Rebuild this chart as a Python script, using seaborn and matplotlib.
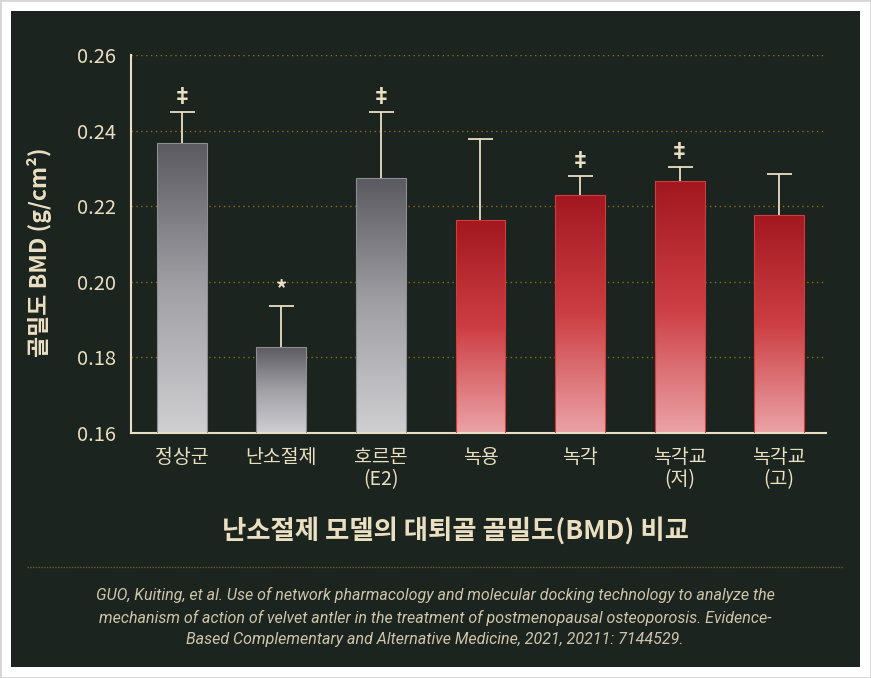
import numpy as np
import pandas as pd
import seaborn as sns
import matplotlib.pyplot as plt
from matplotlib.colors import LinearSegmentedColormap
from matplotlib.patches import Rectangle
from matplotlib.lines import Line2D

# data
groups = ['정상군', '난소절제', '호르몬\n(E2)', '녹용', '녹각', '녹각교\n(저)', '녹각교\n(고)']
bmd_mean = [0.2367, 0.1828, 0.2274, 0.2163, 0.2230, 0.2266, 0.2178]
bmd_err = [0.0082, 0.0109, 0.0175, 0.0216, 0.0050, 0.0038, 0.0106]
marks = ['‡', '*', '‡', '', '‡', '‡', '']
group_kind = ['ref', 'ref', 'ref', 'antler', 'antler', 'antler', 'antler']
y_ticks = [0.16, 0.18, 0.20, 0.22, 0.24, 0.26]

title = '난소절제 모델의 대퇴골 골밀도(BMD) 비교'
citation = ('GUO, Kuiting, et al. Use of network pharmacology and molecular docking technology to analyze the\n'
            'mechanism of action of velvet antler in the treatment of postmenopausal osteoporosis. Evidence-\n'
            'Based Complementary and Alternative Medicine, 2021, 20211: 7144529.')

df = pd.DataFrame({'group': groups, 'bmd': bmd_mean, 'kind': group_kind})

sns.set_theme(style='white')
plt.rcParams['font.family'] = ['Noto Sans CJK KR', 'DejaVu Sans']

cream = '#ebdfc2'
panel = '#1b241f'
grid_c = '#8f6c18'

fig = plt.figure(figsize=(8.71, 6.78), dpi=100, facecolor='white')
fig.patches.append(Rectangle((0, 0), 1, 1, transform=fig.transFigure,
                             facecolor='white', edgecolor='#d6d6d6', lw=2, zorder=-3))
fig.patches.append(Rectangle((11 / 871, 1 - 667 / 678), 849 / 871, 656 / 678,
                             transform=fig.transFigure, facecolor=panel,
                             edgecolor='none', zorder=-2))

ax = fig.add_axes([131 / 871, 1 - 433 / 678, 695 / 871, 378 / 678])
ax.set_facecolor('none')

sns.barplot(data=df, x='group', y='bmd', hue='kind', dodge=False, width=0.5,
            palette={'ref': '#8a8a90', 'antler': '#c42a30'}, legend=False, ax=ax)

gray_cmap = LinearSegmentedColormap.from_list('g', ['#cfcfd2', '#a0a0a5', '#5a5a60'])
red_cmap = LinearSegmentedColormap.from_list('r', ['#eba3a6', '#cc3e43', '#a3171f'])
grad = np.linspace(0, 1, 256).reshape(-1, 1)

for p in ax.patches:
    x0, w, top = p.get_x(), p.get_width(), p.get_y() + p.get_height()
    idx = int(round(x0 + w / 2))
    cmap = gray_cmap if group_kind[idx] == 'ref' else red_cmap
    edge = '#8d8d93' if group_kind[idx] == 'ref' else '#d63a3c'
    im = ax.imshow(grad, extent=[x0, x0 + w, y_ticks[0], top], origin='lower',
                   aspect='auto', cmap=cmap, zorder=2)
    im.set_clip_path(p)
    p.set_facecolor('none')
    p.set_edgecolor(edge)
    p.set_linewidth(0.8)
    p.set_zorder(3)

xs = np.arange(len(groups))
eb = ax.errorbar(xs, bmd_mean, yerr=[np.zeros(len(groups)), bmd_err], fmt='none',
                 ecolor=cream, elinewidth=1.3, capsize=9, capthick=1.3, zorder=1)
# keep only the upper caps
for cap in eb.lines[1]:
    if np.allclose(cap.get_ydata(), bmd_mean):
        cap.set_visible(False)

for i, m in enumerate(marks):
    if m:
        ax.annotate(m, xy=(i, bmd_mean[i] + bmd_err[i]), xytext=(0, 3),
                    textcoords='offset points', ha='center', va='bottom',
                    color=cream, fontsize=15 if m == '‡' else 16, fontweight='bold')

ax.set_xlim(-0.51, 6.47)
ax.set_ylim(0.16, 0.26)
ax.set_yticks(y_ticks)
ax.set_yticklabels([f'{v:.2f}' for v in y_ticks])
ax.set_xlabel('')
ax.set_ylabel('')
ax.tick_params(axis='both', length=0, colors=cream)
ax.tick_params(axis='x', pad=10, labelsize=14)
ax.tick_params(axis='y', pad=11, labelsize=14.5)
for lab in ax.get_xticklabels():
    lab.set_linespacing(1.1)

ax.yaxis.grid(True, linestyle=(0, (1, 2.5)), color=grid_c, linewidth=1)
ax.set_axisbelow(True)
for s in ['top', 'right']:
    ax.spines[s].set_visible(False)
for s in ['left', 'bottom']:
    ax.spines[s].set_color(cream)
    ax.spines[s].set_linewidth(1.5)

fig.text(40 / 871, 1 - 252 / 678, '골밀도 BMD (g/cm²)', rotation=90, ha='center', va='center',
         color=cream, fontsize=16.5, fontweight='bold')
fig.text(455 / 871, 1 - 531 / 678, title, ha='center', va='center',
         color=cream, fontsize=19, fontweight='bold')
fig.lines.append(Line2D([27 / 871, 843 / 871], [1 - 567 / 678] * 2, transform=fig.transFigure,
                        color='#6e5b2a', lw=1, linestyle=(0, (1, 1))))
fig.text(435 / 871, 1 - 617 / 678, citation, ha='center', va='center',
         color='#cfc5ab', fontsize=11.5, style='italic', linespacing=1.55,
         family=['Roboto', 'DejaVu Sans'])

fig.savefig('out.png', dpi=100, facecolor=fig.get_facecolor())
